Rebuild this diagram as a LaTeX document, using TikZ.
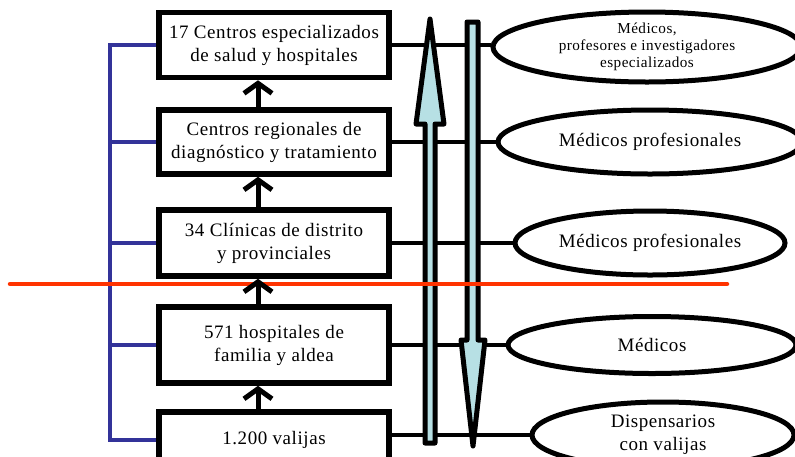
\documentclass[tikz,border=0pt]{standalone}
\usepackage{fontspec}
\setmainfont{Liberation Serif}[LetterSpace=3]
\usetikzlibrary{arrows.meta,shapes.geometric}
\definecolor{bracketblue}{RGB}{51,51,153}
\definecolor{redline}{RGB}{255,51,0}
\definecolor{arrowfill}{RGB}{183,224,228}
\begin{document}
\begin{tikzpicture}[x=1pt,y=-1pt,
  box/.style={draw, line width=5.5pt, fill=white, minimum width=230pt, align=center,
    font=\fontsize{19}{23}\selectfont, inner sep=0pt},
  oval/.style={ellipse, draw, line width=5pt, fill=white, inner sep=0pt, align=center,
    font=\fontsize{19}{23}\selectfont},
  link/.style={line width=4.5pt},
  uparrow/.style={line width=5pt, -{Straight Barb[length=10pt,width=28pt]}},
  bracket/.style={line width=4.5pt, draw=bracketblue},
  bigarrow/.style={draw, line width=5pt, fill=arrowfill, line join=round},
  redrule/.style={line width=4.5pt, draw=redline, line cap=round}]
\useasboundingbox (0,0) rectangle (795,456);
\clip (0,0) rectangle (795,456);

% boxes
\node[box, minimum height=65pt] (b1) at (274,45) {17 Centros especializados\\de salud y hospitales};
\node[box, minimum height=64pt] (b2) at (274,142) {Centros regionales de\\diagnóstico y tratamiento};
\node[box, minimum height=66pt] (b3) at (274,243) {34 Clínicas de distrito\\y provinciales};
\node[box, minimum height=76pt] (b4) at (274,345) {571 hospitales de\\familia y aldea};
\node[box, minimum height=56pt] (b5) at (274,440) {1.200 valijas};

% ellipses
\node[oval, minimum width=308pt, minimum height=70pt, font=\fontsize{15.2}{17}\selectfont] (e1) at (647,47)
  {Médicos,\\profesores e investigadores\\especializados};
\node[oval, minimum width=304pt, minimum height=64pt] (e2) at (650,142) {Médicos profesionales};
\node[oval, minimum width=270pt, minimum height=64pt] (e3) at (650,243) {Médicos profesionales};
\node[oval, minimum width=288pt, minimum height=57pt] (e4) at (652,345) {Médicos};
\node[oval, minimum width=262pt, minimum height=66pt] (e5) at (663,435) {Dispensarios\\con valijas};

% connectors box -> ellipse
\draw[link] (b1.east) -- (b1.east -| e1.west);
\draw[link] (b2.east) -- (e2.west);
\draw[link] (b3.east) -- (e3.west);
\draw[link] (b4.east) -- (e4.west);
\draw[link] (b5.east |- e5.west) -- (e5.west);

% blue bracket
\coordinate (bl) at (110,0);
\draw[bracket] (b1.west) -- (b1.west -| bl) -- (b5.west -| bl) -- (b5.west);
\draw[bracket] (b2.west -| bl) -- (b2.west);
\draw[bracket] (b3.west -| bl) -- (b3.west);
\draw[bracket] (b4.west -| bl) -- (b4.west);

% big arrows
\draw[bigarrow] (425,443) -- (425,124) -- (416,124) -- (430,19) -- (444,124) -- (435,124) -- (435,443) -- cycle;
\draw[bigarrow] (467,22) -- (478,22) -- (478,340) -- (485,340) -- (473,446) -- (461,340) -- (467,340) -- cycle;

% red rule
\coordinate (r1) at (10,284);
\coordinate (r2) at (727,284);
\draw[redrule] (r1) -- (r2);

% arrows between boxes
\coordinate (ax) at (258,0);
\draw[uparrow] (b2.north -| ax) -- (b1.south -| ax);
\draw[uparrow] (b3.north -| ax) -- (b2.south -| ax);
\draw[uparrow] (b4.north -| ax) -- (b3.south -| ax);
\draw[uparrow] (b5.north -| ax) -- (b4.south -| ax);
\end{tikzpicture}
\end{document}
